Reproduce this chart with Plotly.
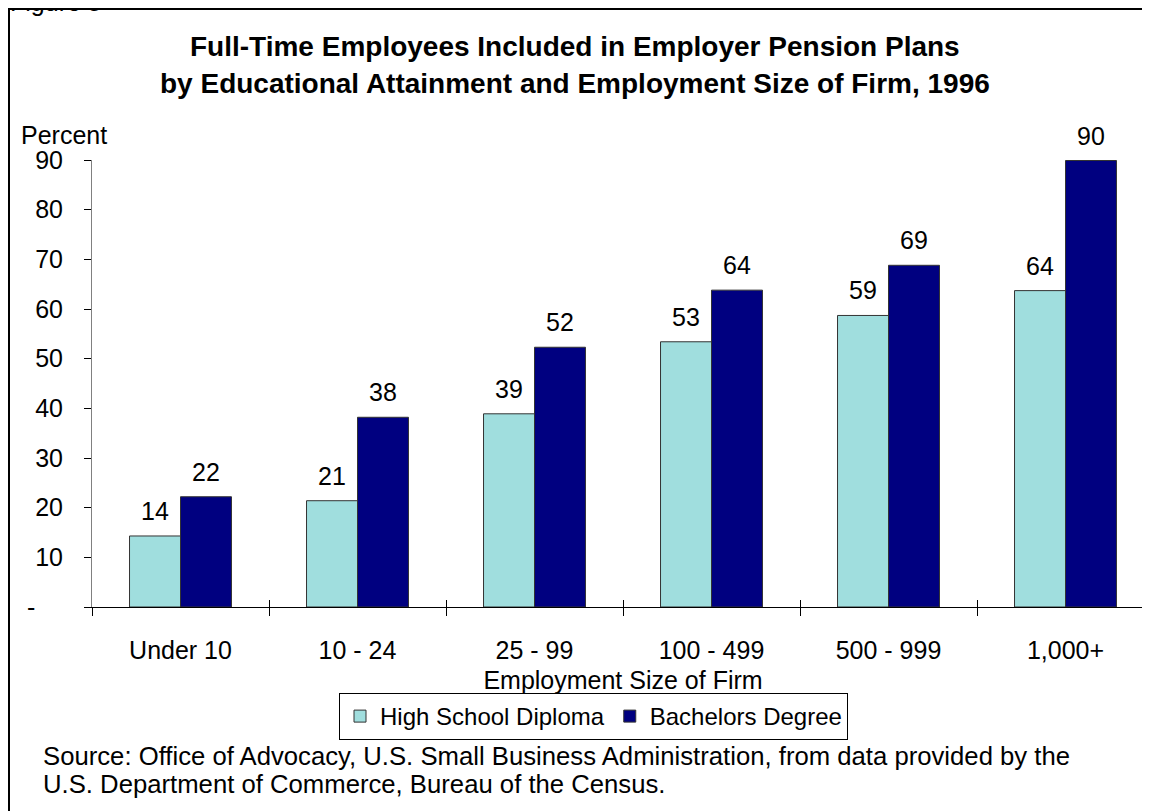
import plotly.graph_objects as go

categories = ["Under 10", "10 - 24", "25 - 99", "100 - 499", "500 - 999", "1,000+"]
high_school = [14.3, 21.4, 38.9, 53.4, 58.7, 63.7]
bachelors = [22.2, 38.2, 52.3, 63.8, 68.8, 89.9]
series_names = ["High School Diploma", "Bachelors Degree"]
y_tick_vals = [0, 10, 20, 30, 40, 50, 60, 70, 80, 90]
y_tick_text = ["-\u00a0\u00a0\u00a0\u00a0", "10", "20", "30", "40", "50", "60", "70", "80", "90"]

title_lines = ["Full-Time Employees Included in Employer Pension Plans",
               "by Educational Attainment and Employment Size of Firm, 1996"]
source_lines = ["Source: Office of Advocacy, U.S. Small Business Administration, from data provided by the",
                "U.S. Department of Commerce, Bureau of the Census."]

FONT = "Arial, Liberation Sans, sans-serif"
W, H = 1150, 811
ML, MT, MB, MR = 84, 152, 212, 4
PLOT_W = W - ML - MR
PLOT_H = H - MT - MB
Y0 = H - MB  # figure pixel of y=0


def px_x(p):
    return (p - ML) / PLOT_W


def px_y(p):
    return (Y0 - p) / PLOT_H


LIGHT = "#A0DEDE"
DARK = "#000080"
EDGE = "#333333"
TXT = dict(family=FONT, size=25, color="black")

fig = go.Figure()
fig.add_trace(go.Bar(x=categories, y=high_school, name=series_names[0],
                     marker=dict(color=LIGHT, line=dict(color=EDGE, width=1))))
fig.add_trace(go.Bar(x=categories, y=bachelors, name=series_names[1],
                     marker=dict(color=DARK, line=dict(color=EDGE, width=1))))

annotations = []
for vals, shift in ((high_school, -25.5), (bachelors, 25.5)):
    for c, v in zip(categories, vals):
        annotations.append(dict(x=c, y=v, xref="x", yref="y", text=str(round(v)),
                                showarrow=False, xshift=shift, yshift=9,
                                yanchor="bottom", font=TXT))

TITLE_FONT = dict(family=FONT, size=28, color="black")
annotations.append(dict(x=px_x(567), y=px_y(39), xref="paper", yref="paper", text="<b>%s</b>" % title_lines[0],
                        showarrow=False, xanchor="center", yanchor="middle", font=TITLE_FONT))
annotations.append(dict(x=px_x(567), y=px_y(75), xref="paper", yref="paper", text="<b>%s</b>" % title_lines[1],
                        showarrow=False, xanchor="center", yanchor="middle", font=TITLE_FONT))
annotations.append(dict(x=px_x(11), y=px_y(127), xref="paper", yref="paper", text="Percent",
                        showarrow=False, xanchor="left", yanchor="middle", font=TXT))
annotations.append(dict(x=px_x(0), y=px_y(-6), xref="paper", yref="paper", text="Figure 5",
                        showarrow=False, xanchor="left", yanchor="middle", font=TXT))
SRC_FONT = dict(family=FONT, size=25.7, color="black")
for i, line in enumerate(source_lines):
    annotations.append(dict(x=px_x(33), y=px_y(748 + 28 * i), xref="paper", yref="paper", text=line,
                            showarrow=False, xanchor="left", yanchor="middle", font=SRC_FONT))

fig.update_layout(
    width=W, height=H,
    margin=dict(l=ML, r=MR, t=MT, b=MB, pad=0),
    paper_bgcolor="white", plot_bgcolor="white",
    barmode="group", bargap=0.424, bargroupgap=0,
    font=TXT,
    showlegend=True,
    legend=dict(orientation="h", x=px_x(585.5), y=px_y(685), xanchor="center", yanchor="top",
                bordercolor="black", borderwidth=1, bgcolor="white",
                font=dict(family=FONT, size=24, color="black"), itemwidth=30, tracegroupgap=0),
    xaxis=dict(type="category", range=[-0.5, 5.5], showline=True, linecolor="black", linewidth=1,
               ticks="outside", tickson="boundaries", ticklen=8, tickcolor="black", tickwidth=1,
               tickfont=TXT, showgrid=False, ticklabelstandoff=21,
               title=dict(text="Employment Size of Firm", standoff=8, font=TXT)),
    xaxis2=dict(overlaying="x", range=[-0.5, 5.5], tick0=-0.5, dtick=1, ticks="inside", ticklen=7,
                tickcolor="black", tickwidth=1, showticklabels=False, showline=False, showgrid=False,
                zeroline=False, side="bottom", anchor="y"),
    yaxis=dict(range=[0, 90], tickvals=y_tick_vals, ticktext=y_tick_text, ticks="outside", ticklen=7,
               tickcolor="black", tickwidth=1, showline=True, linecolor="#808080", linewidth=1,
               showgrid=False, zeroline=False, ticklabelstandoff=16, tickfont=TXT),
    annotations=annotations,
    shapes=[dict(type="rect", xref="paper", yref="paper", x0=px_x(1), x1=1.2, y0=-1.0, y1=px_y(1),
                 line=dict(color="black", width=2), fillcolor="rgba(0,0,0,0)", layer="above")],
)

# invisible helper trace so the second x axis (inside tick marks) is rendered
fig.add_trace(go.Scatter(x=[-0.5], y=[0], xaxis="x2", yaxis="y", mode="markers",
                         marker=dict(opacity=0), showlegend=False, hoverinfo="skip"))

fig.write_html("out.html")
